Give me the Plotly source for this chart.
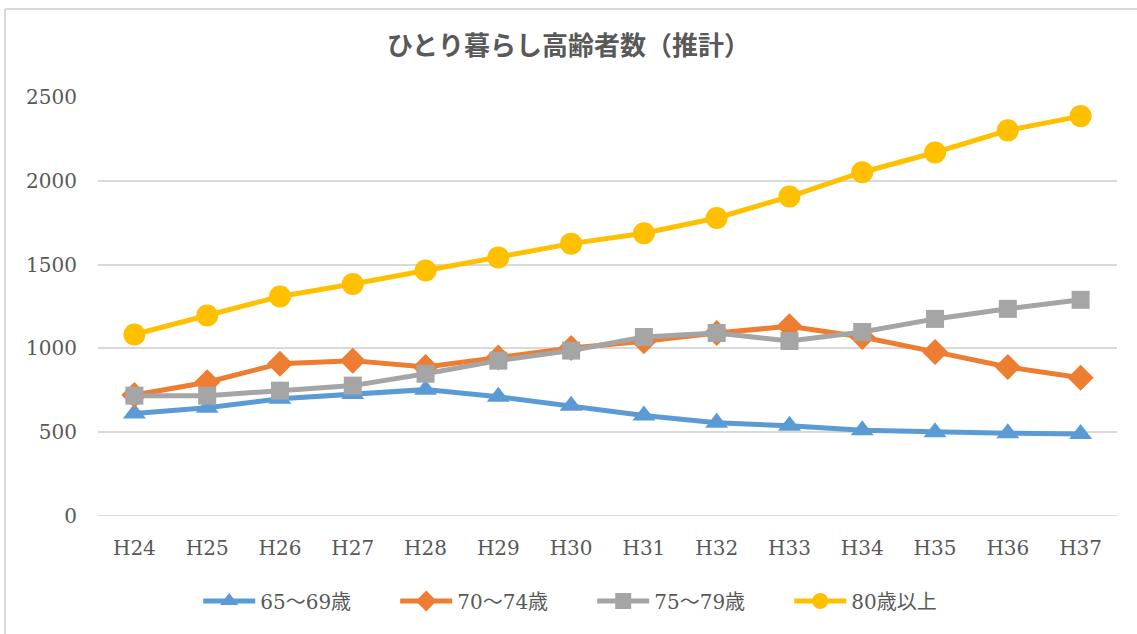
import plotly.graph_objects as go

categories = ["H24", "H25", "H26", "H27", "H28", "H29", "H30", "H31", "H32", "H33", "H34", "H35", "H36", "H37"]
s65_69 = [612, 646, 700, 728, 754, 712, 658, 600, 556, 538, 512, 500, 494, 490]
s70_74 = [722, 798, 909, 927, 889, 945, 1003, 1043, 1092, 1132, 1068, 979, 889, 825]
s75_79 = [718, 718, 748, 778, 849, 927, 987, 1068, 1092, 1044, 1098, 1176, 1236, 1290]
s80_over = [1083, 1196, 1310, 1384, 1465, 1543, 1625, 1687, 1778, 1906, 2051, 2169, 2301, 2386]

series = [
    ("65～69歳", s65_69, "#5B9BD5", "triangle-up", 20),
    ("70～74歳", s70_74, "#ED7D31", "diamond", 20),
    ("75～79歳", s75_79, "#A5A5A5", "square", 18),
    ("80歳以上", s80_over, "#FFC000", "circle", 22),
]

fig = go.Figure()
for name, vals, color, sym, size in series:
    fig.add_trace(go.Scatter(
        x=categories, y=vals, name=name, mode="lines+markers",
        line=dict(color=color, width=5),
        marker=dict(symbol=sym, size=size, color=color),
    ))

W, H = 1137, 634
L, R, T, B = 98, 20, 97, 118
pw, ph = W - L - R, H - T - B
bx = (5 - L) / pw
by = (H - B - 9) / ph

tickfont = dict(family="DejaVu Serif, Noto Sans CJK JP", size=20, color="#595959")

fig.update_layout(
    width=W, height=H,
    margin=dict(l=L, r=R, t=T, b=B, autoexpand=False),
    paper_bgcolor="white", plot_bgcolor="white",
    title=dict(text="<b>ひとり暮らし高齢者数（推計）</b>", x=0.5, xanchor="center",
               y=1 - 46 / H, yanchor="middle",
               font=dict(family="Noto Sans CJK JP", size=26, color="#595959")),
    xaxis=dict(type="category", range=[-0.5, len(categories) - 0.5], showgrid=False,
               showline=False, zeroline=False,
               ticks="", ticklabelstandoff=18, automargin=False, tickfont=tickfont),
    yaxis=dict(range=[0, 2500], dtick=500, showgrid=True, gridcolor="#D9D9D9", gridwidth=2,
               zeroline=False, showline=False, ticks="", ticklabelstandoff=20,
               automargin=False, tickfont=tickfont),
    legend=dict(orientation="h", x=0.485, xanchor="center", y=-(601 - (H - B)) / ph, yanchor="middle",
                itemwidth=52, entrywidth=130, entrywidthmode="pixels",
                font=dict(family="DejaVu Serif, Noto Sans CJK JP", size=20, color="#595959")),
    shapes=[
        dict(type="line", xref="paper", yref="paper", x0=bx, x1=bx, y0=-0.4, y1=by,
             line=dict(color="#D9D9D9", width=2)),
        dict(type="line", xref="paper", yref="paper", x0=bx, x1=1.2, y0=by, y1=by,
             line=dict(color="#D9D9D9", width=2)),
    ],
)
fig.add_shape(type="line", xref="paper", yref="y", x0=0, x1=1, y0=0, y1=0,
              line=dict(color="#D9D9D9", width=2), layer="below")

fig.write_html("out.html", config={"displayModeBar": False},
               post_script="document.body.style.margin='0';document.body.style.overflow='hidden';")
